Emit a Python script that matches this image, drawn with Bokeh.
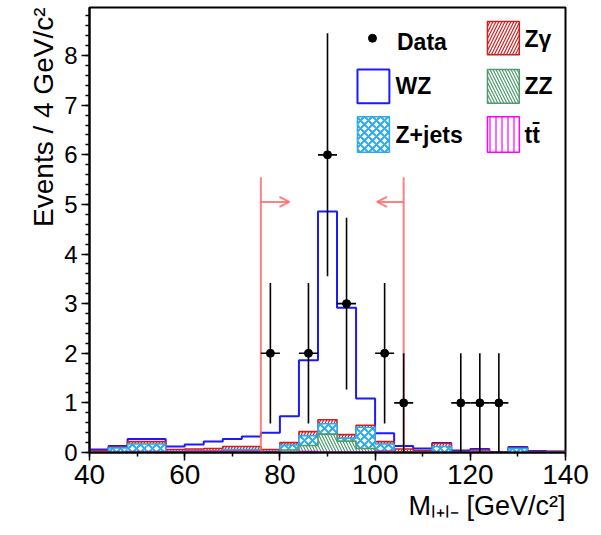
import numpy as np
from bokeh.plotting import figure
from bokeh.models import Range1d, FixedTicker, Label, Arrow, OpenHead, ColumnDataSource, Title
from bokeh.embed import file_html
from bokeh.resources import INLINE

# ---------------- data ----------------
bin_lo = list(range(40, 140, 4))          # 25 bins of 4 GeV/c^2
bin_width = 4
ttbar = [0, 0, 0.01, 0.01, 0.01, 0.02, 0.02, 0.02, 0.02, 0.01, 0.0, 0.02, 0.01,
         0.01, 0.01, 0.02, 0, 0, 0, 0, 0, 0, 0, 0, 0]
zz = [0.01, 0.01, 0.01, 0.01, 0.01, 0.01, 0.01, 0.02, 0.02, 0.01, 0.05, 0.12, 0.36,
      0.22, 0.07, 0.01, 0.01, 0.01, 0.01, 0, 0, 0, 0, 0, 0]
zjets = [0, 0.08, 0.15, 0.15, 0, 0, 0, 0.02, 0.02, 0, 0.10, 0.20, 0.21,
         0.06, 0.43, 0.14, 0, 0, 0.11, 0, 0.02, 0, 0.08, 0, 0]
zgamma = [0.03, 0.02, 0.05, 0.05, 0.04, 0.04, 0.05, 0.06, 0.06, 0.04, 0.05, 0.08, 0.08,
          0.07, 0.04, 0.05, 0.06, 0.03, 0.06, 0.02, 0.03, 0, 0.01, 0.02, 0.02]
wz = [0.02, 0.02, 0.05, 0.05, 0.06, 0.09, 0.14, 0.15, 0.20, 0.34, 0.53, 1.44, 4.20,
      2.56, 0.54, 0.17, 0.06, 0.04, 0.01, 0.02, 0.02, 0.01, 0.02, 0.01, 0.0]
data_x = [78, 86, 90, 94, 102, 106, 118, 122, 126]
data_n = [2, 2, 6, 3, 2, 1, 1, 1, 1]
cut_lo, cut_hi = 76, 106
x_ticks = [40, 60, 80, 100, 120, 140]
y_ticks = [0, 1, 2, 3, 4, 5, 6, 7, 8]

# ---------------- styles ----------------
FONT = "Liberation Sans"
C_WZ = "#1a1aff"
C_ZG = "#cc2020"
C_ZZ = "#4f9a6e"
C_ZJ = "#2aa8f2"
C_TT = "#ff00ff"
C_CUT = "#ff6a6a"

p = figure(width=601, height=535, frame_width=476, frame_height=445,
           min_border_left=89, min_border_right=36, min_border_top=7, min_border_bottom=83,
           x_range=Range1d(40, 140), y_range=Range1d(0, 8.97),
           output_backend="svg", toolbar_location=None)
p.grid.visible = False
p.outline_line_color = "black"
p.outline_line_width = 2
p.background_fill_color = "white"
p.border_fill_color = "white"

p.xaxis.ticker = FixedTicker(ticks=x_ticks, minor_ticks=list(range(40, 141, 10)))
p.yaxis.ticker = FixedTicker(ticks=y_ticks, minor_ticks=[round(v * 0.2, 1) for v in range(0, 45)])
for ax in (p.xaxis, p.yaxis):
    ax.axis_line_width = 2
    ax.major_tick_line_width = 1.5
    ax.minor_tick_line_width = 1.5
    ax.major_tick_in = 0
    ax.minor_tick_in = 0
    ax.major_tick_out = 8
    ax.minor_tick_out = 4
    ax.major_label_text_font = FONT
    ax.major_label_text_color = "black"
p.xaxis.major_label_text_font_size = "28px"
p.yaxis.major_label_text_font_size = "24px"
p.xaxis.major_label_standoff = 4
p.yaxis.major_label_standoff = 4

lo = np.array(bin_lo, dtype=float)
hi = lo + bin_width

# stacked cumulative tops (ttbar bottom, then ZZ, Z+jets, Zgamma, WZ)
c_tt = np.array(ttbar)
c_zz = c_tt + np.array(zz)
c_zj = c_zz + np.array(zjets)
c_zg = c_zj + np.array(zgamma)
c_wz = c_zg + np.array(wz)


def step_xy(top):
    xs = np.repeat(np.append(lo, hi[-1]), 2)[1:-1]
    ys = np.repeat(top, 2)
    xs = np.concatenate([[lo[0]], xs, [hi[-1]]])
    ys = np.concatenate([[0], ys, [0]])
    return xs, ys


layers = [
    (c_wz, C_WZ, None, 2.0),
    (c_zg, C_ZG, "/", 1.6),
    (c_zj, C_ZJ, "x", 1.6),
    (c_zz, C_ZZ, "\\", 1.6),
    (c_tt, C_TT, "|", 1.6),
]
for top, col, hatch, lw in layers:
    kw = dict(fill_color="white", line_color=None)
    if hatch:
        kw.update(hatch_pattern=hatch, hatch_color=col,
                  hatch_weight=2 if hatch == "x" else 1.2,
                  hatch_scale=8 if hatch == "x" else 6)
    p.quad(left=lo, right=hi, bottom=0, top=top, **kw)
    xs, ys = step_xy(top)
    p.line(xs, ys, line_color=col, line_width=lw)

# cut lines and arrows
for xc, xe in ((cut_lo, cut_lo + 6), (cut_hi, cut_hi - 5.6)):
    p.segment(x0=[xc], y0=[0], x1=[xc], y1=[5.55], line_color=C_CUT, line_width=2, line_alpha=0.85)
    p.add_layout(Arrow(end=OpenHead(size=10, line_color=C_CUT, line_width=2, line_alpha=0.85),
                       x_start=xc, y_start=5.05, x_end=xe, y_end=5.05,
                       line_color=C_CUT, line_width=2, line_alpha=0.85))

# data points with sqrt(N) errors
dx = np.array(data_x, dtype=float)
dn = np.array(data_n, dtype=float)
err = np.sqrt(dn)
src = ColumnDataSource(dict(x=dx, y=dn, lo=dn - err, hi=dn + err,
                            xl=dx - bin_width / 2, xr=dx + bin_width / 2))
p.segment(x0="x", y0="lo", x1="x", y1="hi", source=src, line_color="black", line_width=1.6)
p.segment(x0="xl", y0="y", x1="xr", y1="y", source=src, line_color="black", line_width=1.6)
p.scatter(x="x", y="y", source=src, size=8, color="black")

# ---------------- legend (drawn by hand) ----------------
LEG_FS = "23px"
p.scatter(x=[99.45], y=[8.35], size=8, color="black")
leg_boxes = [
    (96.3, 103.0, 7.04, 7.72, C_WZ, None),
    (96.3, 103.0, 6.05, 6.77, C_ZJ, "x"),
    (123.6, 130.3, 8.02, 8.69, C_ZG, "/"),
    (123.6, 130.3, 7.04, 7.72, C_ZZ, "\\"),
    (123.6, 130.3, 6.05, 6.77, C_TT, "|"),
]
for l, r, b, t, col, hatch in leg_boxes:
    kw = dict(fill_color="white", line_color=col, line_width=2 if hatch is None else 1.5)
    if hatch:
        kw.update(hatch_pattern=hatch, hatch_color=col,
                  hatch_weight=2 if hatch == "x" else 1.2,
                  hatch_scale=8 if hatch == "x" else 6)
    p.quad(left=[l], right=[r], bottom=[b], top=[t], **kw)

leg_texts = [(104.6, 8.27, "Data"), (104.3, 7.38, "WZ"), (104.3, 6.41, "Z+jets"),
             (131.4, 8.33, "Zγ"), (131.4, 7.38, "ZZ"), (131.4, 6.41, "tt̄")]
for tx, ty, t in leg_texts:
    p.add_layout(Label(x=tx, y=ty, text=t, text_font=FONT, text_font_size=LEG_FS,
                       text_font_style="bold", text_baseline="middle", text_color="black"))

# ---------------- axis titles (side panels) ----------------
p.add_layout(Title(text="Events / 4 GeV/c²", align="right", text_font=FONT,
                   text_font_size="28px", text_font_style="normal", text_color="black",
                   standoff=6), "left")
p.add_layout(Title(text="Mₗ₊ₗ₋ [GeV/c²]", align="right", text_font=FONT,
                   text_font_size="27px", text_font_style="normal", text_color="black",
                   standoff=4), "below")

open("out.html", "w").write(file_html(p, INLINE))
